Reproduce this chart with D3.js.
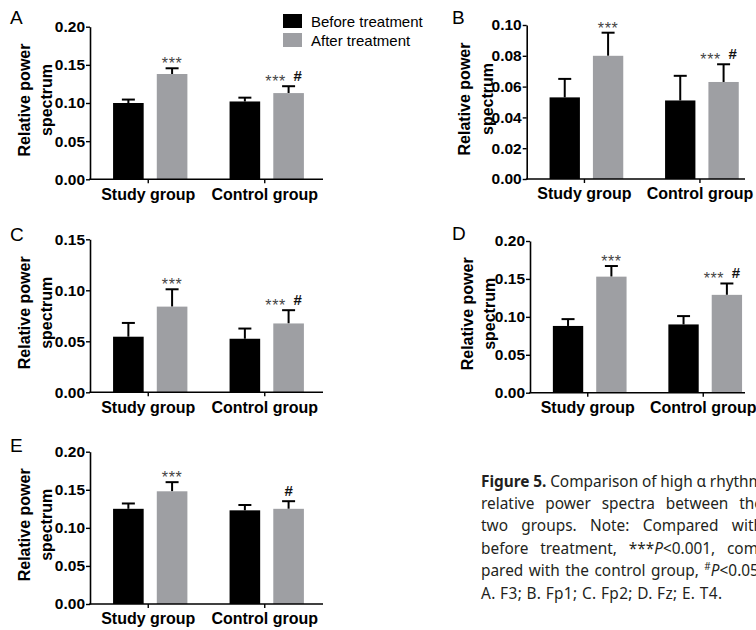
<!DOCTYPE html>
<html><head><meta charset="utf-8">
<script src="https://cdn.jsdelivr.net/npm/d3@7"></script>
<style>body{margin:0;background:#fff;overflow:hidden} svg{display:block}</style>
</head><body>
<svg id="c" width="756" height="630"></svg>
<script>
// ---------------- DATA ----------------
const groups = ["Study group", "Control group"];
const series = ["Before treatment", "After treatment"];
const panelLabels = ["A", "B", "C", "D", "E"];
// order: [study before, study after, control before, control after]
const meansA = [0.100, 0.138, 0.102, 0.113];
const errsA  = [0.0045, 0.0075, 0.0050, 0.0090];
const meansB = [0.053, 0.080, 0.051, 0.063];
const errsB  = [0.012, 0.015, 0.016, 0.0115];
const meansC = [0.0545, 0.084, 0.0525, 0.0675];
const errsC  = [0.0135, 0.017, 0.010, 0.013];
const meansD = [0.088, 0.153, 0.090, 0.129];
const errsD  = [0.009, 0.014, 0.011, 0.015];
const meansE = [0.125, 0.148, 0.123, 0.125];
const errsE  = [0.007, 0.012, 0.007, 0.010];
const ticksA = [0, 0.05, 0.10, 0.15, 0.20];
const ticksB = [0, 0.02, 0.04, 0.06, 0.08, 0.10];
const ticksC = [0, 0.05, 0.10, 0.15];
const ticksD = [0, 0.05, 0.10, 0.15, 0.20];
const ticksE = [0, 0.05, 0.10, 0.15, 0.20];
const annA = ["", "***", "", "***|#"];
const annB = ["", "***", "", "***|#"];
const annC = ["", "***", "", "***|#"];
const annD = ["", "***", "", "***|#"];
const annE = ["", "***", "", "#"];
const yTitle = ["Relative power", "spectrum"];
const captionLines = [
  [[{t:"Figure", b:1}], [{t:"5.", b:1}], [{t:"Comparison"}], [{t:"of"}], [{t:"high"}], [{t:"α"}], [{t:"rhythm"}]],
  [[{t:"relative"}], [{t:"power"}], [{t:"spectra"}], [{t:"between"}], [{t:"the"}]],
  [[{t:"two"}], [{t:"groups."}], [{t:"Note:"}], [{t:"Compared"}], [{t:"with"}]],
  [[{t:"before"}], [{t:"treatment,"}], [{t:"***"}, {t:"P", i:1}, {t:"<0.001,"}], [{t:"com-"}]],
  [[{t:"pared"}], [{t:"with"}], [{t:"the"}], [{t:"control"}], [{t:"group,"}], [{t:"#", sup:1}, {t:"P", i:1}, {t:"<0.05."}]],
];
const captionLast = "A. F3; B. Fp1; C. Fp2; D. Fz; E. T4.";

// ---------------- LAYOUT / STYLE ----------------
const FONT = "'Liberation Sans', Arial, Helvetica, sans-serif";
const BLACK = "#000000", GRAY = "#9e9fa3";
const colors = {"Before treatment": BLACK, "After treatment": GRAY};

const panels = [
  {label: panelLabels[0], means: meansA, errs: errsA, ticks: ticksA, ann: annA},
  {label: panelLabels[1], means: meansB, errs: errsB, ticks: ticksB, ann: annB},
  {label: panelLabels[2], means: meansC, errs: errsC, ticks: ticksC, ann: annC},
  {label: panelLabels[3], means: meansD, errs: errsD, ticks: ticksD, ann: annD},
  {label: panelLabels[4], means: meansE, errs: errsE, ticks: ticksE, ann: annE},
];
const layout = [
  {x: 90,    w: 233, axisEnd: 323, yTop: 26.7,  y0: 179.3, lx: 10,  ly: 24,  t1: -60, t2: -38},
  {x: 526.7, w: 231, axisEnd: 745, yTop: 25,    y0: 179,   lx: 452, ly: 24,  t1: -57, t2: -34},
  {x: 90,    w: 233, axisEnd: 323, yTop: 239.3, y0: 392.3, lx: 10,  ly: 241, t1: -60, t2: -38},
  {x: 530,   w: 231, axisEnd: 745, yTop: 241,   y0: 392.7, lx: 452, ly: 240, t1: -57, t2: -35},
  {x: 90,    w: 233, axisEnd: 323, yTop: 451.7, y0: 604,   lx: 10,  ly: 452, t1: -60, t2: -38},
];

const svg = d3.select("#c");

function drawPanel(p, L) {
  const g = svg.append("g");
  const y = d3.scaleLinear().domain([0, d3.max(p.ticks)]).range([L.y0, L.yTop]);
  const x0 = d3.scaleBand().domain(groups).range([L.x, L.x + L.w]);
  const bw = x0.bandwidth();
  const x1 = d3.scaleBand().domain(series).range([bw * 0.198, bw * 0.836]).paddingInner(0.3);

  const data = [];
  groups.forEach((gn, gi) => series.forEach((s, si) => {
    const k = gi * 2 + si;
    data.push({g: gn, s: s, v: p.means[k], e: p.errs[k], ann: p.ann[k]});
  }));

  // error bars (upper only)
  data.forEach(d => {
    const cx = x0(d.g) + x1(d.s) + x1.bandwidth() / 2;
    const yt = y(d.v + d.e);
    g.append("line").attr("x1", cx).attr("x2", cx).attr("y1", y(d.v)).attr("y2", yt)
      .attr("stroke", "#000").attr("stroke-width", 2);
    g.append("line").attr("x1", cx - 6.5).attr("x2", cx + 6.5).attr("y1", yt).attr("y2", yt)
      .attr("stroke", "#000").attr("stroke-width", 2);
  });

  // bars
  g.selectAll("rect.bar").data(data).join("rect").attr("class", "bar")
    .attr("x", d => x0(d.g) + x1(d.s))
    .attr("width", x1.bandwidth())
    .attr("y", d => y(d.v))
    .attr("height", d => L.y0 - y(d.v))
    .attr("fill", d => colors[d.s]);

  // annotations
  data.forEach(d => {
    if (!d.ann) return;
    const cx = x0(d.g) + x1(d.s) + x1.bandwidth() / 2;
    const yt = y(d.v + d.e);
    const parts = d.ann.split("|");
    const both = parts.length > 1;
    parts.forEach(a => {
      if (a === "***") {
        g.append("text").attr("x", both ? cx - 13 : cx).attr("y", yt + 1)
          .attr("text-anchor", "middle").attr("font-family", FONT).attr("font-size", 16)
          .attr("letter-spacing", 0.6).attr("fill", "#444").text(a);
      } else {
        g.append("text").attr("x", both ? cx + 9 : cx).attr("y", yt - 5)
          .attr("text-anchor", "middle").attr("font-family", FONT).attr("font-size", 15)
          .attr("font-weight", "bold").attr("fill", "#111").text(a);
      }
    });
  });

  // y axis
  const ya = g.append("g").attr("transform", `translate(${L.x},0)`)
    .call(d3.axisLeft(y).tickValues(p.ticks).tickFormat(d3.format(".2f")).tickSize(4).tickSizeOuter(0).tickPadding(1));
  ya.select(".domain").attr("stroke-width", 1.6);
  ya.selectAll(".tick line").attr("stroke-width", 1.4);
  ya.selectAll("text").attr("font-family", FONT).attr("font-size", 15.5).attr("font-weight", "bold").attr("fill", "#000");

  // x axis
  g.append("line").attr("x1", L.x - 0.8).attr("x2", L.axisEnd).attr("y1", L.y0).attr("y2", L.y0)
    .attr("stroke", "#000").attr("stroke-width", 1.6);
  const xa = g.append("g").attr("transform", `translate(0,${L.y0})`)
    .call(d3.axisBottom(x0).tickSize(4).tickSizeOuter(0).tickPadding(5));
  xa.select(".domain").remove();
  xa.selectAll(".tick line").attr("stroke-width", 1.4);
  xa.selectAll("text").attr("font-family", FONT).attr("font-size", 16).attr("font-weight", "bold").attr("fill", "#000");

  // y title
  const ym = (L.y0 + L.yTop) / 2 - 3;
  [L.t1, L.t2].forEach((off, i) => {
    g.append("text").attr("transform", `translate(${L.x + off},${ym}) rotate(-90)`)
      .attr("text-anchor", "middle").attr("font-family", FONT).attr("font-size", 16)
      .attr("font-weight", "bold").attr("fill", "#000").text(yTitle[i]);
  });

  // panel letter
  g.append("text").attr("x", L.lx).attr("y", L.ly).attr("font-family", FONT)
    .attr("font-size", 19).attr("fill", "#000").text(p.label);
}

panels.forEach((p, i) => drawPanel(p, layout[i]));

// legend
const lg = svg.append("g");
series.forEach((s, i) => {
  lg.append("rect").attr("x", 283).attr("y", 14 + i * 19).attr("width", 19).attr("height", 14).attr("fill", colors[s]);
  lg.append("text").attr("x", 311).attr("y", 26.5 + i * 19).attr("font-family", FONT)
    .attr("font-size", 15).attr("fill", "#000").text(s);
});

// caption
const CAPF = "'Noto Sans', 'Open Sans', sans-serif";
const cap = svg.append("g").attr("font-family", CAPF).attr("font-size", 15.4).attr("fill", "#231f20");
const capX = 481, capR = 763, capY0 = 486.5, capLH = 22.4;
function makeWord(segs, yb) {
  const t = cap.append("text").attr("y", yb);
  let raised = false;
  segs.forEach(s => {
    const ts = t.append("tspan").text(s.t);
    if (s.b) ts.attr("font-weight", "bold");
    if (s.i) ts.attr("font-style", "italic");
    if (s.sup) { ts.attr("font-size", 10).attr("dy", -6); raised = true; }
    else if (raised) { ts.attr("dy", 6); raised = false; }
  });
  return t;
}
captionLines.forEach((words, li) => {
  const yb = capY0 + li * capLH;
  const nodes = words.map(w => makeWord(w, yb));
  const widths = nodes.map(n => n.node().getComputedTextLength());
  const gap = (capR - capX - d3.sum(widths)) / (nodes.length - 1);
  let cx = capX;
  nodes.forEach((n, i) => { n.attr("x", cx); cx += widths[i] + gap; });
});
cap.append("text").attr("x", capX).attr("y", capY0 + 5 * capLH)
  .attr("textLength", 241).attr("lengthAdjust", "spacing").text(captionLast);
</script>
</body></html>
